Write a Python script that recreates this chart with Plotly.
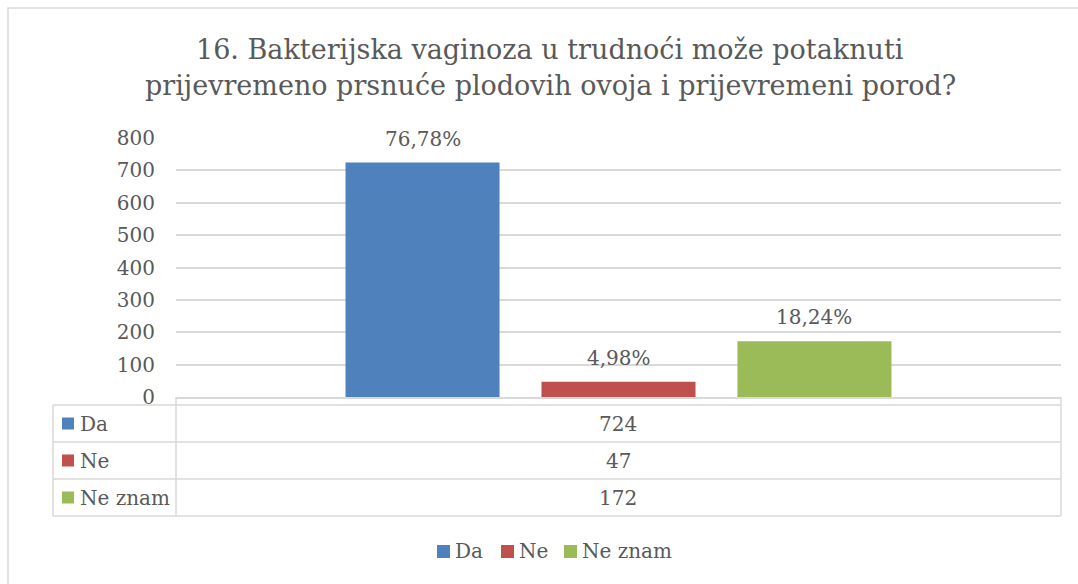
import plotly.graph_objects as go

# ---- data ----
series_names = ["Da", "Ne", "Ne znam"]
counts = [724, 47, 172]
percent_labels = ["76,78%", "4,98%", "18,24%"]
y_ticks = [0, 100, 200, 300, 400, 500, 600, 700, 800]
title_lines = ["16. Bakterijska vaginoza u trudnoći može potaknuti",
               "prijevremeno prsnuće plodovih ovoja i prijevremeni porod?"]

# ---- styles ----
colors = ["#4F81BD", "#C0504D", "#9BBB59"]
text_color = "#595959"
grid_color = "#D9D9D9"
FONT = "DejaVu Serif"
W, H = 1078, 584
L, R, T, B = 176, 17, 138, 187
PW, PH = W - L - R, H - T - B


def px(x):
    return (x - L) / PW


def py(y):
    return (H - B - y) / PH


fig = go.Figure()
for name, val, col in zip(series_names, counts, colors):
    fig.add_trace(go.Bar(
        x=[name], y=[val], name=name, marker=dict(color=col, line=dict(width=0)),
        width=0.786, hoverinfo="skip", showlegend=False,
    ))

# percent labels above bars
for name, val, lab in zip(series_names, counts, percent_labels):
    fig.add_annotation(x=name, y=val, text=lab, showarrow=False, yanchor="middle",
                       yshift=24, font=dict(family=FONT, size=20, color=text_color))

# title (two lines)
for txt, yc in zip(title_lines, [49, 85]):
    fig.add_annotation(xref="paper", yref="paper", x=px(550), y=py(yc), text=txt,
                       showarrow=False, xanchor="center", yanchor="middle",
                       font=dict(family=FONT, size=27, color=text_color))

shapes = []
line = dict(color=grid_color, width=1.5)
# outer chart border
shapes.append(dict(type="rect", xref="paper", yref="paper", x0=px(8), x1=px(1090),
                   y0=py(8), y1=py(600), line=line, layer="below"))
# data table lines
row_lines = [405, 442, 479, 516]
for yy in row_lines:
    shapes.append(dict(type="line", xref="paper", yref="paper", x0=px(53), x1=px(1061),
                       y0=py(yy), y1=py(yy), line=line))
shapes.append(dict(type="line", xref="paper", yref="paper", x0=px(53), x1=px(53),
                   y0=py(405), y1=py(516), line=line))
for xx in [176, 1061]:
    shapes.append(dict(type="line", xref="paper", yref="paper", x0=px(xx), x1=px(xx),
                       y0=py(397), y1=py(516), line=line))
# row keys and labels
row_centers = [423.5, 460.5, 497.5]
for name, val, col, yc in zip(series_names, counts, colors, row_centers):
    shapes.append(dict(type="rect", xref="paper", yref="paper", x0=px(62), x1=px(74),
                       y0=py(yc - 6), y1=py(yc + 6), line=dict(width=0), fillcolor=col))
    fig.add_annotation(xref="paper", yref="paper", x=px(78), y=py(yc), text=name,
                       showarrow=False, xanchor="left", yanchor="middle",
                       font=dict(family=FONT, size=20, color=text_color))
    fig.add_annotation(xref="paper", yref="paper", x=px(618), y=py(yc), text=str(val),
                       showarrow=False, xanchor="center", yanchor="middle",
                       font=dict(family=FONT, size=20, color=text_color))

# bottom legend (drawn manually)
legend_x = [437, 501, 564]
for name, col, lx in zip(series_names, colors, legend_x):
    shapes.append(dict(type="rect", xref="paper", yref="paper", x0=px(lx), x1=px(lx + 13),
                       y0=py(545), y1=py(558), line=dict(width=0), fillcolor=col))
    fig.add_annotation(xref="paper", yref="paper", x=px(lx + 16), y=py(551), text=name,
                       showarrow=False, xanchor="left", yanchor="middle",
                       font=dict(family=FONT, size=20, color=text_color))

fig.update_layout(
    width=W, height=H,
    margin=dict(l=L, r=R, t=T, b=B, pad=0),
    paper_bgcolor="white", plot_bgcolor="white",
    barmode="overlay",
    showlegend=False,
    shapes=shapes,
    font=dict(family=FONT, color=text_color),
)
fig.update_xaxes(type="category", range=[-1.258, 3.258], showticklabels=False,
                 showgrid=False, showline=True, linecolor=grid_color, linewidth=1.5,
                 zeroline=False, fixedrange=True)
fig.update_yaxes(range=[0, 800], tickvals=y_ticks, showgrid=True, gridcolor=grid_color,
                 gridwidth=1.5, zeroline=False, showline=False,
                 tickfont=dict(family=FONT, size=20, color=text_color),
                 ticklabelstandoff=20, fixedrange=True)

fig.write_html("out.html", config={"displayModeBar": False},
               post_script="document.body.style.margin='0';")
